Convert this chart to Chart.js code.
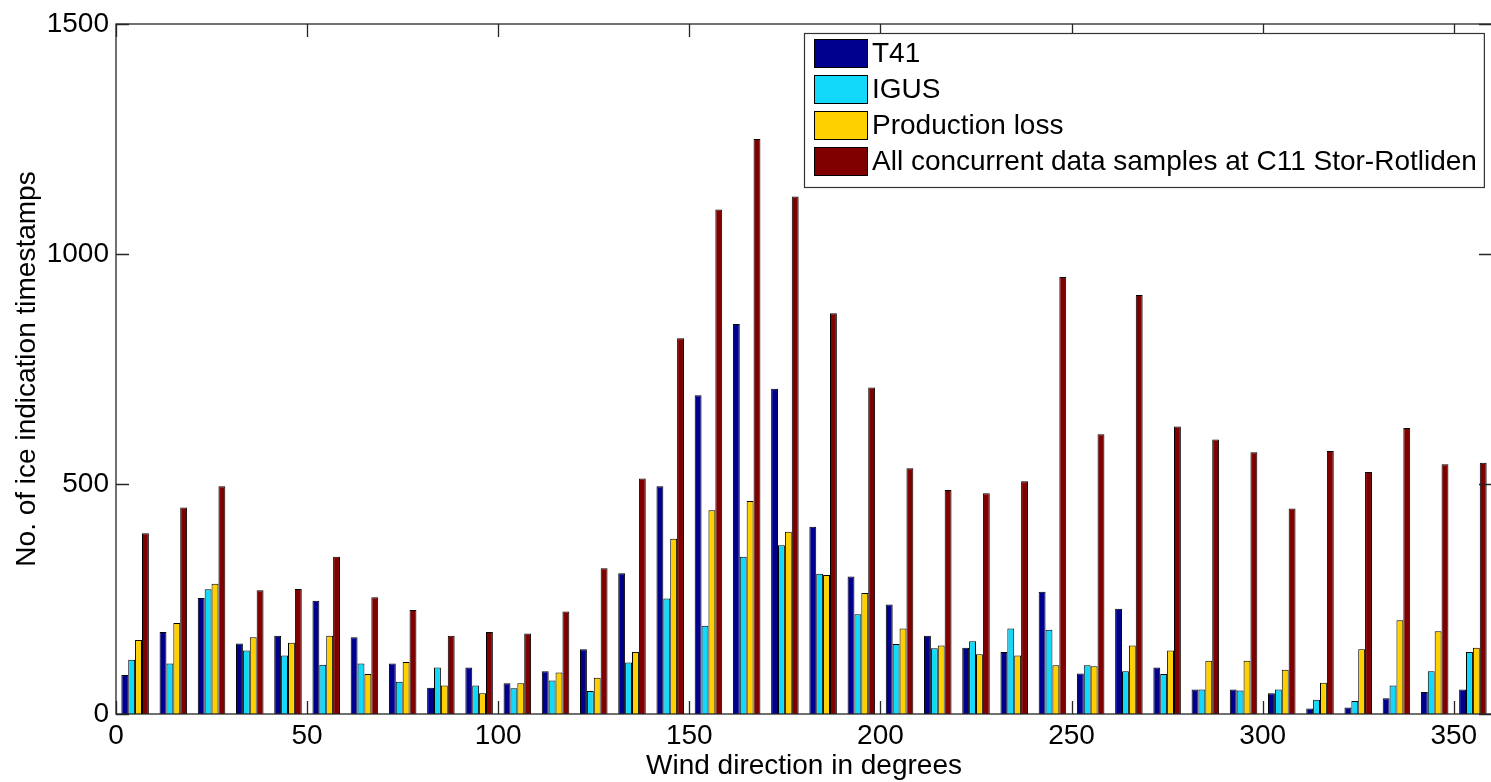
<!DOCTYPE html>
<html>
<head>
<meta charset="utf-8">
<script src="https://cdn.jsdelivr.net/npm/chart.js@4/dist/chart.umd.min.js"></script>
<style>
  html, body { margin: 0; padding: 0; background: #fff; overflow: hidden; }
  #wrap { position: relative; width: 1500px; height: 782px; }
</style>
</head>
<body>
<div id="wrap"><canvas id="iceChart"></canvas></div>
<script>
// Categorias: direccion del viento (centro de cada sector de 10 grados)
const directions = [5, 15, 25, 35, 45, 55, 65, 75, 85, 95, 105, 115, 125, 135, 145, 155, 165, 175,
                    185, 195, 205, 215, 225, 235, 245, 255, 265, 275, 285, 295, 305, 315, 325, 335, 345, 355];

const t41 = [85, 178, 252, 153, 170, 246, 167, 110, 57, 101, 67, 93, 141, 306, 495, 693, 848, 707,
             407, 299, 238, 170, 144, 135, 266, 88, 229, 101, 53, 53, 45, 12, 14, 34, 48, 53];
const igus = [118, 110, 271, 138, 127, 107, 110, 70, 101, 62, 56, 73, 50, 112, 251, 192, 342, 367,
              305, 217, 152, 143, 158, 186, 183, 106, 93, 87, 53, 51, 53, 31, 28, 62, 93, 135];
const productionLoss = [161, 198, 283, 167, 155, 170, 87, 113, 62, 45, 67, 90, 79, 135, 381, 443, 463, 396,
                        302, 263, 186, 149, 130, 127, 106, 104, 149, 138, 116, 116, 96, 68, 141, 204, 180, 144];
const allSamples = [393, 449, 495, 269, 272, 342, 254, 226, 170, 178, 175, 223, 317, 512, 817, 1097, 1250, 1125,
                    871, 710, 534, 487, 480, 506, 950, 608, 911, 625, 597, 569, 447, 572, 526, 622, 543, 546];

const seriesLabels = ['T41', 'IGUS', 'Production loss', 'All concurrent data samples at C11 Stor-Rotliden'];
const seriesColors = ['#00008f', '#12d8fa', '#ffd000', '#800000'];

const xTicks = [0, 50, 100, 150, 200, 250, 300, 350];
const yTicks = [0, 500, 1000, 1500];

const FONT = 'Liberation Sans, Arial, sans-serif';

function toPoints(values) {
    return directions.map((d, i) => ({ x: d, y: values[i] }));
}

const datasets = [t41, igus, productionLoss, allSamples].map((vals, i) => ({
    label: seriesLabels[i],
    data: toPoints(vals),
    backgroundColor: seriesColors[i],
    borderColor: '#000',
    borderWidth: 1,
    borderSkipped: 'bottom',
    barPercentage: 1.0,
    categoryPercentage: 0.72
}));

// caja de ejes con marcas hacia dentro (estilo MATLAB) + leyenda dentro del area
const axesBox = {
    id: 'axesBox',
    afterDatasetsDraw(chart) {
        const { ctx, chartArea: a, scales: { x, y } } = chart;
        const tl = 13;
        ctx.save();
        ctx.strokeStyle = '#262626';
        ctx.lineWidth = 1.3;
        ctx.strokeRect(a.left, a.top, a.right - a.left, a.bottom - a.top);
        ctx.beginPath();
        xTicks.forEach(v => {
            const px = Math.round(x.getPixelForValue(v)) + 0.5;
            ctx.moveTo(px, a.bottom); ctx.lineTo(px, a.bottom - tl);
            ctx.moveTo(px, a.top); ctx.lineTo(px, a.top + tl);
        });
        yTicks.forEach(v => {
            const py = Math.round(y.getPixelForValue(v)) + 0.5;
            ctx.moveTo(a.left, py); ctx.lineTo(a.left + tl, py);
            ctx.moveTo(a.right, py); ctx.lineTo(a.right - tl, py);
        });
        ctx.stroke();

        // leyenda
        const lx = a.left + 688, ly = a.top + 9;
        const rowH = 36, swW = 53, swH = 28;
        ctx.font = '28px ' + FONT;
        const textW = Math.max(...chart.data.datasets.map(d => ctx.measureText(d.label).width));
        const boxW = 10 + swW + 5 + textW + 7;
        const boxH = 6 + rowH * chart.data.datasets.length + 4;
        ctx.fillStyle = '#fff';
        ctx.fillRect(lx, ly, boxW, boxH);
        ctx.strokeStyle = '#333';
        ctx.lineWidth = 1.2;
        ctx.strokeRect(lx + 0.5, ly + 0.5, boxW, boxH);
        chart.data.datasets.forEach((d, i) => {
            const sy = ly + 6 + i * rowH;
            ctx.fillStyle = d.backgroundColor;
            ctx.fillRect(lx + 10, sy, swW, swH);
            ctx.strokeStyle = '#000';
            ctx.lineWidth = 1;
            ctx.strokeRect(lx + 10.5, sy + 0.5, swW, swH);
            ctx.fillStyle = '#000';
            ctx.textBaseline = 'middle';
            ctx.textAlign = 'left';
            ctx.fillText(d.label, lx + 10 + swW + 5, sy + swH / 2 + 1);
        });
        ctx.restore();
    }
};

const ctx = document.getElementById('iceChart').getContext('2d');
new Chart(ctx, {
    type: 'bar',
    data: { datasets: datasets },
    plugins: [axesBox],
    options: {
        responsive: true,
        maintainAspectRatio: false,
        animation: false,
        layout: { padding: { left: 0, top: 24, right: 8, bottom: 0 } },
        plugins: {
            legend: { display: false },
            tooltip: { enabled: false }
        },
        scales: {
            x: {
                type: 'linear',
                min: 0,
                max: 360,
                offset: false,
                grid: { display: false, drawTicks: false },
                border: { display: false },
                afterBuildTicks: s => { s.ticks = xTicks.map(v => ({ value: v })); },
                afterFit: s => { s.height = 68; },
                ticks: {
                    color: '#000',
                    padding: 5,
                    maxRotation: 0,
                    autoSkip: false,
                    callback: v => String(v),
                    font: { family: FONT, size: 28 }
                },
                title: {
                    display: true,
                    text: 'Wind direction in degrees',
                    color: '#000',
                    font: { family: FONT, size: 28, lineHeight: 1 },
                    padding: { top: 0, bottom: 2 }
                }
            },
            y: {
                min: 0,
                max: 1500,
                grid: { display: false, drawTicks: false },
                border: { display: false },
                afterBuildTicks: s => { s.ticks = yTicks.map(v => ({ value: v })); },
                afterFit: s => { s.width = 116; },
                ticks: {
                    color: '#000',
                    padding: 7,
                    callback: v => String(v),
                    font: { family: FONT, size: 28 }
                },
                title: {
                    display: true,
                    text: 'No. of ice indication timestamps',
                    color: '#000',
                    font: { family: FONT, size: 28, lineHeight: 1 },
                    padding: { top: 13, bottom: 0 }
                }
            }
        }
    }
});
</script>
</body>
</html>
